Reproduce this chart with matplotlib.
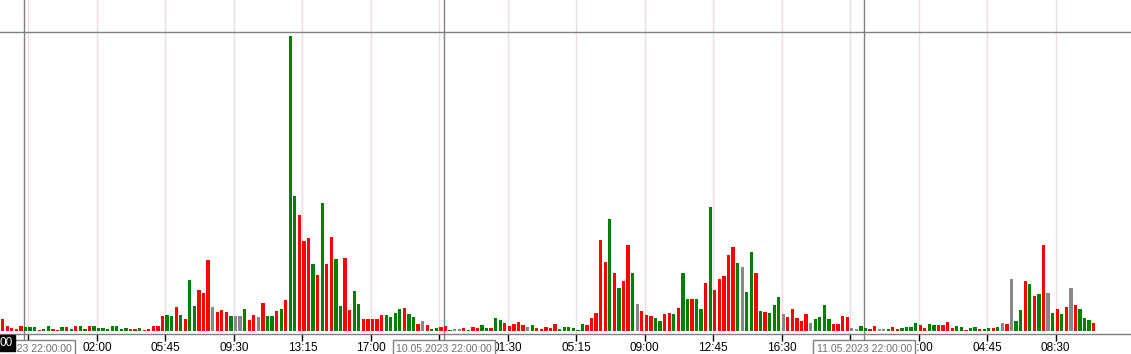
import matplotlib.pyplot as plt

# volume per 15 min bar (arbitrary units)
volumes = [
    11.7, 4.7, 2.7, 1.7, 4.7, 3.7, 3.7, 3.7, 1.0, 1.7,
    4.7, 1.7, 1.0, 3.7, 3.7, 1.7, 4.7, 4.7, 1.7, 4.7,
    4.7, 2.7, 2.7, 1.7, 4.7, 4.7, 1.7, 2.7, 1.7, 1.7,
    2.7, 1.0, 1.7, 4.7, 4.7, 14.7, 15.7, 14.7, 23.7, 15.7,
    11.7, 50.7, 25.3, 41.3, 38.0, 70.7, 24.3, 19.3, 21.3, 19.3,
    15.3, 15.3, 14.7, 22.3, 11.3, 16.3, 14.3, 28.3, 15.3, 15.3,
    20.3, 22.3, 31.3, 294.7, 135.3, 116.3, 90.3, 93.3, 67.3, 56.3,
    128.3, 67.3, 94.3, 72.3, 25.3, 73.3, 21.3, 40.3, 27.3, 12.3,
    12.3, 12.3, 11.7, 15.7, 15.7, 13.7, 17.7, 21.7, 22.7, 16.7,
    13.7, 6.7, 9.7, 5.7, 1.7, 2.7, 3.7, 4.7, 0.7, 1.7,
    1.7, 2.7, 0.7, 3.7, 2.7, 5.7, 2.7, 2.7, 12.7, 10.7,
    7.7, 4.7, 6.7, 8.7, 5.7, 3.7, 5.7, 2.7, 1.7, 3.7,
    2.7, 6.7, 1.7, 3.7, 3.7, 2.7, 0.7, 6.7, 5.7, 12.7,
    17.7, 90.7, 68.7, 111.7, 57.7, 42.7, 49.7, 85.7, 57.7, 26.7,
    19.7, 15.7, 14.7, 12.7, 9.7, 16.7, 17.7, 16.7, 22.7, 57.7,
    31.7, 32.3, 32.3, 21.7, 47.7, 123.7, 40.7, 51.7, 54.7, 75.7,
    83.7, 67.7, 63.7, 38.7, 78.7, 57.7, 19.7, 18.7, 17.7, 25.7,
    33.7, 16.7, 13.7, 21.7, 12.7, 9.7, 16.7, 7.7, 11.7, 13.7,
    25.7, 11.7, 6.7, 6.7, 14.7, 13.7, 2.7, 1.7, 4.7, 2.7,
    1.7, 4.7, 1.7, 1.7, 1.7, 3.7, 1.7, 2.7, 3.7, 3.7,
    7.7, 5.7, 2.7, 6.7, 5.7, 5.7, 5.7, 8.7, 2.7, 4.7,
    3.7, 1.3, 2.7, 3.7, 1.7, 1.7, 2.7, 2.7, 3.7, 7.7,
    6.7, 51.7, 9.7, 20.7, 49.7, 46.7, 34.7, 36.7, 85.7, 37.7,
    17.7, 21.7, 16.7, 23.7, 42.7, 25.7, 21.7, 12.7, 10.7, 7.7,
]

# r = down bar, g = up bar, n = unchanged
directions = (
    "rrrrrgggrg" "grrgrgrggr" "ggggggggrr" "grrrrrggrg"
    "rggrrrnrrr" "gnngrrnrgg" "rgrggrrrgr" "grrggrrggr"
    "rrrrggggrg" "grnrggrrgn" "nrgrrggrgg" "rrrrrngrrr"
    "rrggggggrr" "rrrgrgrrgn" "rrrggrrgrg" "grggrgrrrr"
    "rgnggrgrgg" "gnrrrrrngg" "ggrrrrnngg" "rrnngrrggg"
    "grrggrrrrg" "grggrggrgn" "rnggrgrgrn" "grgrnrgggr"
)

tick_bars = [6, 21, 36, 51, 66, 81, 96, 111, 126, 141, 156, 171, 186, 201, 216, 231]
tick_labels = ["", "02:00", "05:45", "09:30", "13:15", "17:00", "", "01:30",
               "05:15", "09:00", "12:45", "16:30", "", "01:00", "04:45", "08:30"]

day_start_bars = [5, 97, 189]
day_labels = ["09.05.2023 22:00:00", "10.05.2023 22:00:00", "11.05.2023 22:00:00"]

colors = {"r": "#ff0000", "g": "#008000", "n": "#888888"}
bar_colors = [colors[c] for c in directions]

fig = plt.figure(figsize=(11.31, 3.54), dpi=100)
ax = fig.add_axes([0, 20 / 354, 1, 334 / 354])

ax.bar(range(len(volumes)), volumes, width=0.72, color=bar_colors, zorder=3)

ax.set_xlim(-0.59, 247.17)
ax.set_ylim(-3, 331)

# pink time grid
tick_pos = [b - 0.35 for b in tick_bars]
for x in tick_pos:
    ax.axvline(x, color="#ecdde3", lw=1, zorder=1)

# day separators
for b in day_start_bars:
    ax.axvline(b - 0.3, ymin=-0.015, ymax=1, color="#808080", lw=1, zorder=2, clip_on=False)

ax.axhline(299, color="#808080", lw=1, zorder=2)

ax.set_xticks(tick_pos)
ax.set_xticklabels(tick_labels, fontsize=8.5, family="Liberation Sans")
ax.tick_params(axis="x", length=5, width=1, color="black", pad=1.0)
ax.set_yticks([])

for side in ["top", "left", "right"]:
    ax.spines[side].set_visible(False)
ax.spines["bottom"].set_color("#808080")
ax.spines["bottom"].set_linewidth(1)

for b, lab in zip(day_start_bars, day_labels):
    ax.annotate(lab, xy=(b - 0.3, 0), xycoords=("data", "axes fraction"),
                xytext=(0, -10.5), textcoords="offset points",
                ha="center", va="center", fontsize=7.6, family="Liberation Sans",
                color="#707070", annotation_clip=False, zorder=10,
                bbox=dict(boxstyle="square,pad=0.3", fc="white", ec="#808080", lw=1))

fig.text(0.0, 11 / 354, "00", ha="left", va="center", fontsize=8.5,
         family="Liberation Sans", color="white",
         bbox=dict(boxstyle="square,pad=0.15", fc="black", ec="black"), zorder=11)

plt.savefig("out.png", dpi=100)
